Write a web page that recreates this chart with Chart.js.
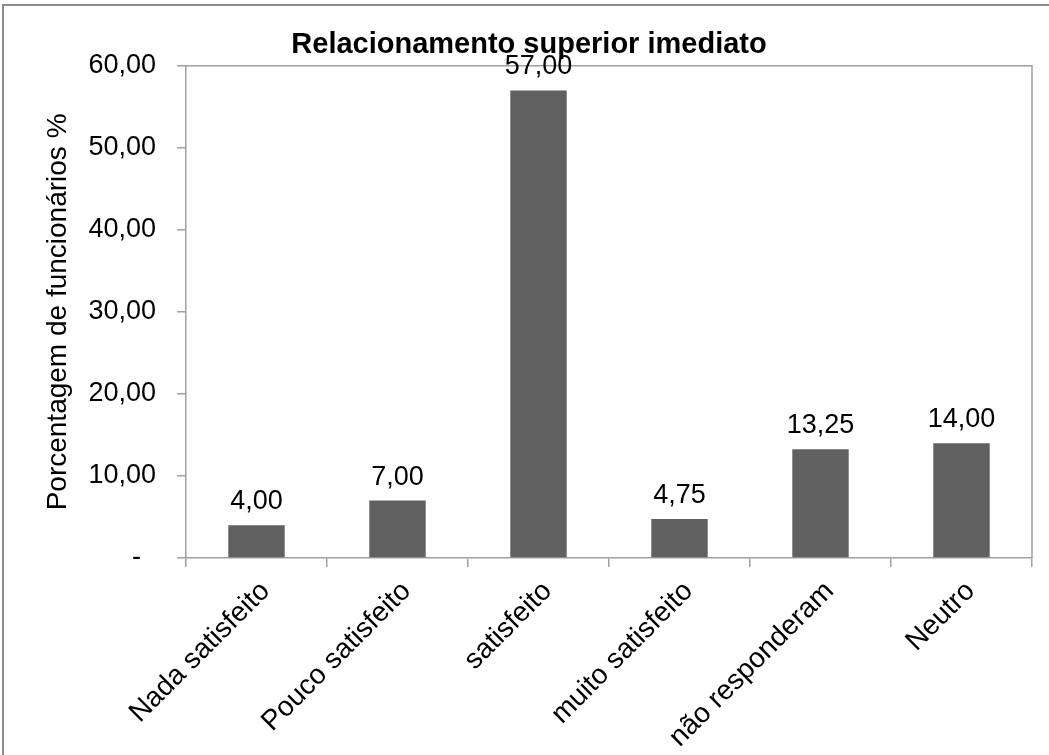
<!DOCTYPE html>
<html lang="pt">
<head>
<meta charset="utf-8">
<title>Relacionamento superior imediato</title>
<script src="https://cdn.jsdelivr.net/npm/chart.js@4.4.1/dist/chart.umd.min.js"></script>
<style>
  html, body { margin: 0; padding: 0; background: #ffffff; }
  #wrap { position: relative; width: 1049px; height: 755px; overflow: hidden; }
  #frame {
    position: absolute; left: 2px; top: 4px; width: 1100px; height: 800px;
    border-top: 2px solid #8c8c8c; border-left: 2px solid #8c8c8c;
    box-sizing: border-box; pointer-events: none;
  }
  canvas { position: absolute; left: 0; top: 0; }
</style>
</head>
<body>
<div id="wrap">
  <canvas id="chart" width="1049" height="755"></canvas>
  <div id="frame"></div>
</div>
<script>
// Satisfaction categories and the share of employees in each (%)
const categories = ['Nada satisfeito', 'Pouco satisfeito', 'satisfeito', 'muito satisfeito', 'não responderam', 'Neutro'];
const percentages = [4.00, 7.00, 57.00, 4.75, 13.25, 14.00];
const yTickValues = [0, 10, 20, 30, 40, 50, 60];

const FONT = "'Liberation Sans', Arial, sans-serif";
const AXIS_GRAY = '#a0a0a0';

// Brazilian number format: 13,25
function fmt(v) {
  return v.toFixed(2).replace('.', ',');
}

// Frame around the plot area (top and right edges)
const plotBorder = {
  id: 'plotBorder',
  beforeDatasetsDraw(chart) {
    const { ctx, chartArea: a } = chart;
    ctx.save();
    ctx.strokeStyle = AXIS_GRAY;
    ctx.lineWidth = 1.5;
    ctx.beginPath();
    ctx.moveTo(a.left, a.top);
    ctx.lineTo(a.right, a.top);
    ctx.lineTo(a.right, a.bottom);
    ctx.stroke();
    ctx.restore();
  }
};

// Value labels above each bar
const valueLabels = {
  id: 'valueLabels',
  afterDatasetsDraw(chart) {
    const { ctx } = chart;
    const meta = chart.getDatasetMeta(0);
    const data = chart.data.datasets[0].data;
    ctx.save();
    ctx.font = '27px ' + FONT;
    ctx.fillStyle = '#000000';
    ctx.textAlign = 'center';
    ctx.textBaseline = 'alphabetic';
    meta.data.forEach((bar, i) => {
      ctx.fillText(fmt(data[i]), bar.x, bar.y - 16);
    });
    ctx.restore();
  }
};

new Chart(document.getElementById('chart'), {
  type: 'bar',
  data: {
    labels: categories,
    datasets: [{
      data: percentages,
      backgroundColor: '#606060',
      borderWidth: 0,
      barPercentage: 0.4,
      categoryPercentage: 1.0
    }]
  },
  options: {
    responsive: false,
    animation: false,
    devicePixelRatio: 1,
    layout: { padding: { left: 26, right: 17, top: 0, bottom: 0 } },
    plugins: {
      legend: { display: false },
      tooltip: { enabled: false },
      title: {
        display: true,
        text: 'Relacionamento superior imediato',
        color: '#000000',
        font: { family: FONT, size: 29, weight: 'bold', lineHeight: 1.2 },
        padding: { top: 28, bottom: 3 }
      }
    },
    scales: {
      x: {
        type: 'category',
        offset: true,
        grid: {
          offset: true,
          drawOnChartArea: false,
          drawTicks: true,
          tickLength: 9,
          color: AXIS_GRAY,
          lineWidth: 1.5
        },
        border: { display: true, color: AXIS_GRAY, width: 1.5 },
        ticks: {
          color: '#000000',
          font: { family: FONT, size: 28 },
          minRotation: 45,
          maxRotation: 45,
          autoSkip: false,
          labelOffset: 9,
          padding: 8
        },
        afterFit(scale) { scale.height = 197; }
      },
      y: {
        min: 0,
        max: 60,
        afterBuildTicks(scale) {
          scale.ticks = yTickValues.map(v => ({ value: v }));
        },
        grid: {
          drawOnChartArea: false,
          drawTicks: true,
          tickLength: 9,
          color: AXIS_GRAY,
          lineWidth: 1.5
        },
        border: { display: true, color: AXIS_GRAY, width: 1.5 },
        ticks: {
          color: '#000000',
          font: { family: FONT, size: 27 },
          padding: 21,
          callback: (v) => (v === 0 ? '-  ' : fmt(v))
        },
        title: {
          display: true,
          text: 'Porcentagem de funcionários %',
          color: '#000000',
          font: { family: FONT, size: 28, lineHeight: 1.2 },
          padding: { top: 15, bottom: 0 }
        },
        afterFit(scale) { scale.width = 160; }
      }
    }
  },
  plugins: [plotBorder, valueLabels]
});
</script>
</body>
</html>
